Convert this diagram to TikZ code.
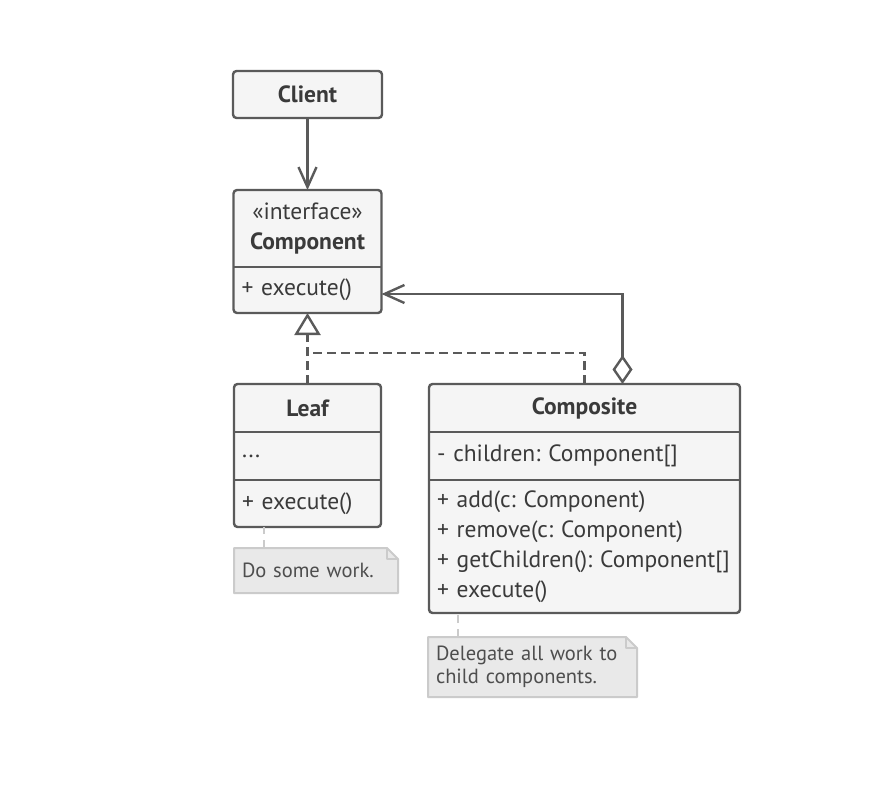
\documentclass[tikz,border=0pt]{standalone}
\usepackage{fontspec}
\setmainfont{PT Sans}
\usetikzlibrary{positioning, fit, backgrounds, arrows.meta}
\definecolor{linegray}{HTML}{5A5A5A}
\definecolor{boxfill}{HTML}{F5F5F5}
\definecolor{textgray}{HTML}{3A3A3A}
\definecolor{notefill}{HTML}{E9E9E9}
\definecolor{noteline}{HTML}{CBCBCB}
\frenchspacing

\begin{document}
\begin{tikzpicture}[
  x=1pt, y=-1pt,
  line width=2.4pt,
  font=\fontsize{23.5}{30}\selectfont,
  text=textgray,
  classpart/.style={fill=boxfill, inner xsep=8pt, inner ysep=0pt, outer sep=0pt, text width=#1, align=left, minimum height=48pt},
  classtitle/.style={classpart=#1, align=center, font=\fontsize{23.5}{30}\selectfont\bfseries},
  classframe/.style={draw=linegray, rounded corners=3.5pt, inner sep=0pt, outer sep=0pt},
  notetext/.style={inner xsep=8pt, inner ysep=0pt, outer sep=0pt, text width=#1, align=left, font=\fontsize{20.5}{23}\selectfont, text=textgray!90},
  notebody/.style={fill=notefill, draw=noteline, line width=2pt, line join=round},
  notelink/.style={draw=noteline, line width=2pt, dash pattern=on 8pt off 6pt},
  assoc/.style={draw=linegray, -{Straight Barb[length=20pt, width=18pt]}},
  realize/.style={draw=linegray, dash pattern=on 9pt off 5pt, -{Triangle[length=22pt, width=26pt, fill=white]}},
  dashline/.style={draw=linegray, dash pattern=on 9pt off 5pt},
  aggregate/.style={draw=linegray, {Diamond[length=29pt, width=20pt, fill=white]}-{Straight Barb[length=20pt, width=18pt]}}
]
\useasboundingbox (0,0) rectangle (896,786);

\node (client) [classtitle=133pt, minimum height=47pt] at (307.5,94.5) {Client};
\node[classframe, fit=(client)] (clientbox) {};

\node (comphead) [classtitle=132pt, minimum height=77pt, below=72pt of client, font=\fontsize{23.5}{30}\selectfont] {%
  «interface»\\ \textbf{Component}};
\node (compops) [classpart=132pt, minimum height=46pt, below=0pt of comphead] {+ execute()};
\node[classframe, fit=(comphead)(compops)] (component) {};
\draw[linegray] (compops.north west) -- (compops.north east);

\node (leafhead) [classtitle=131pt, below=71pt of compops] {Leaf};
\node (leafattrs) [classpart=131pt, below=0pt of leafhead] {...};
\node (leafops) [classpart=131pt, minimum height=47pt, below=0pt of leafattrs] {+ execute()};
\node[classframe, fit=(leafhead)(leafops)] (leaf) {};
\draw[linegray] (leafattrs.north west) -- (leafattrs.north east);
\draw[linegray] (leafops.north west) -- (leafops.north east);

\node (compositehead) [classtitle=295pt, right=48pt of leafhead] {Composite};
\node (compositeattrs) [classpart=295pt, below=0pt of compositehead] {- children: Component[]};
\node (compositeops) [classpart=295pt, minimum height=133pt, below=0pt of compositeattrs] {%
  + add(c: Component)\\
  + remove(c: Component)\\
  + getChildren(): Component[]\\
  + execute()};
\node[classframe, fit=(compositehead)(compositeops)] (composite) {};
\draw[linegray] (compositeattrs.north west) -- (compositeattrs.north east);
\draw[linegray] (compositeops.north west) -- (compositeops.north east);

\node (doworknote) [notetext=148pt, minimum height=45pt, below=21pt of leafops.south west, anchor=north west] {Do some work.};
\node (delegatenote) [notetext=193pt, minimum height=60pt, below=24pt of compositeops.south west, anchor=north west, xshift=-1pt] {%
  Delegate all work to\\ child components.};

\begin{scope}[on background layer]
  \foreach \n in {doworknote, delegatenote} {
    \filldraw[notebody] (\n.south west) -- (\n.north west) -- ([xshift=-11pt]\n.north east)
      -- ([yshift=-11pt]\n.north east) -- (\n.south east) -- cycle;
    \draw[notebody, fill=none] ([xshift=-11pt]\n.north east) |- ([yshift=-11pt]\n.north east);
  }
\end{scope}

\coordinate (leaflink) at ([xshift=30pt]doworknote.north west);
\coordinate (compositelink) at ([xshift=30pt]delegatenote.north west);
\draw[notelink] (leaflink) -- (leaflink |- leafops.south);
\draw[notelink] (compositelink) -- (compositelink |- compositeops.south);

\draw[assoc] (clientbox) -- (comphead);

\coordinate (join) at ([yshift=31pt]leafhead.north);
\draw[realize] (leafhead.north) -- (compops.south);
\draw[dashline] (compositehead.north) |- (join);

\draw[aggregate] ([xshift=38pt]compositehead.north) |- ([yshift=-4pt]compops.east);

\end{tikzpicture}
\end{document}
